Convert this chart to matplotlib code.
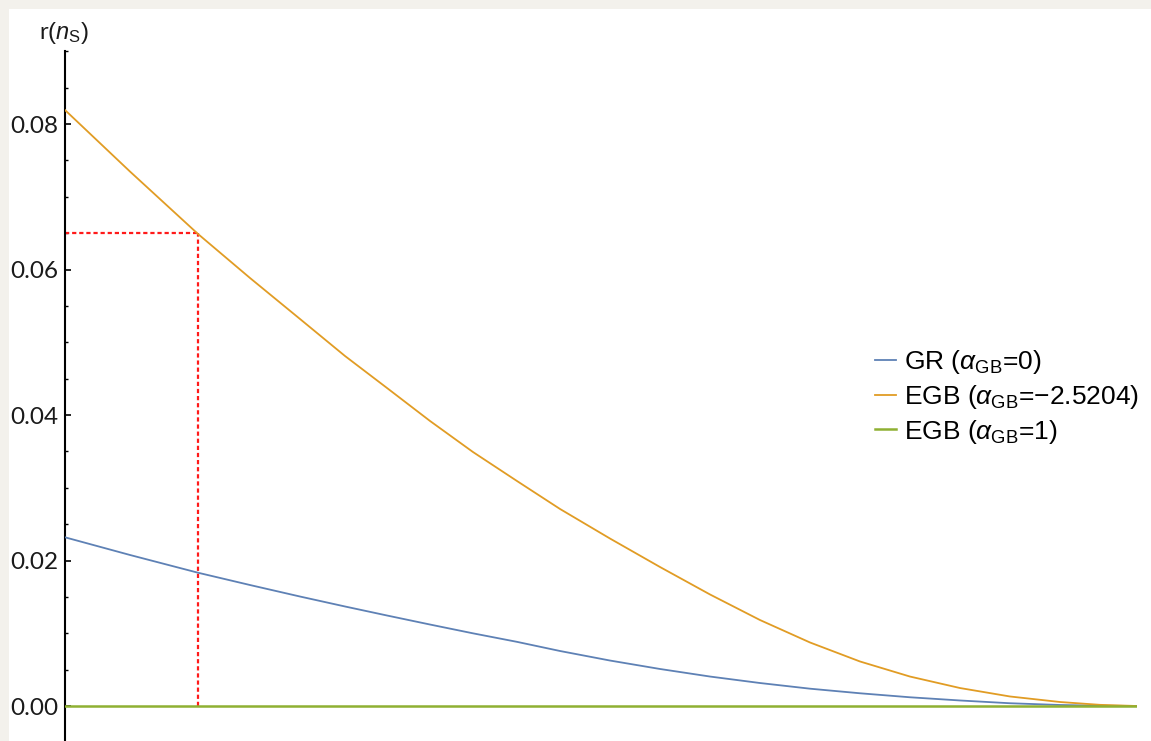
import matplotlib
matplotlib.use("Agg")
import matplotlib.pyplot as plt
from matplotlib.patches import Rectangle

# Parameter grid (normalised, curves vanish at the right end)
x_vals = [0.0, 0.0606, 0.1241, 0.1726, 0.2192, 0.2612, 0.3004, 0.3405, 0.3806,
          0.4216, 0.4618, 0.5084, 0.5550, 0.6017, 0.6483, 0.6950, 0.7416,
          0.7882, 0.8349, 0.8815, 0.9282, 0.9655, 1.0]

# Tensor-to-scalar ratio for each model
r_gr = [0.02319, 0.02076, 0.01832, 0.01663, 0.01505, 0.01368, 0.01244, 0.01120,
        0.00999, 0.00882, 0.00756, 0.00625, 0.00509, 0.00405, 0.00316, 0.00238,
        0.00175, 0.00120, 0.00076, 0.00038, 0.00014, 0.00004, 0.0]
r_egb_neg = [0.08192, 0.07347, 0.06488, 0.05883, 0.05320, 0.04811, 0.04371, 0.03918,
             0.03491, 0.03093, 0.02708, 0.02302, 0.01911, 0.01533, 0.01182, 0.00873,
             0.00612, 0.00405, 0.00247, 0.00131, 0.00055, 0.00016, 0.0]
r_egb_one = [0.0] * 23

series_labels = [
    r"GR ($\alpha_{\mathrm{GB}}$=0)",
    "EGB ($\\alpha_{\\mathrm{GB}}$=\u22122.5204)",
    r"EGB ($\alpha_{\mathrm{GB}}$=1)",
]
series_colors = ["#5E81B5", "#E19C24", "#8FB032"]

# Highlighted point on the EGB curve
x_mark = 0.1241
r_mark = 0.065

y_ticks = [0.00, 0.02, 0.04, 0.06, 0.08]
y_tick_labels = ["0.00", "0.02", "0.04", "0.06", "0.08"]

plt.rcParams["mathtext.fontset"] = "custom"
plt.rcParams["mathtext.rm"] = "Liberation Sans"
plt.rcParams["mathtext.it"] = "Liberation Sans:italic"
plt.rcParams["mathtext.bf"] = "Liberation Sans:bold"

W, H = 1151, 741
fig = plt.figure(figsize=(W / 100, H / 100), dpi=100, facecolor="#F3F1EC")
fig.patches.append(Rectangle((9 / W, 0), 1 - 9 / W, (H - 9) / H,
                             transform=fig.transFigure, facecolor="white",
                             edgecolor="none", zorder=-10))

ymin, ymax = -0.00481, 0.09
ax = fig.add_axes([65 / W, 0, (1137 - 65) / W, (H - 51.25) / H])
ax.set_zorder(1)
ax.patch.set_alpha(0)
ax.set_xlim(0, 1)
ax.set_ylim(ymin, ymax)

# Reference lines to the highlighted point
dots = (0, (1.9, 1.3))
ax.plot([x_mark, x_mark], [0, r_mark], color="#FF1A1A", lw=1.6,
        linestyle=dots, zorder=2, clip_on=False)
ax.plot([0, x_mark], [r_mark, r_mark], color="#FF1A1A", lw=1.6,
        linestyle=dots, zorder=2, clip_on=False)

ax.plot(x_vals, r_gr, color=series_colors[0], lw=1.3, label=series_labels[0], zorder=3)
ax.plot(x_vals, r_egb_neg, color=series_colors[1], lw=1.3, label=series_labels[1], zorder=3)
ax.plot(x_vals, r_egb_one, color=series_colors[2], lw=1.8, label=series_labels[2], zorder=4)

for s in ("top", "right", "bottom"):
    ax.spines[s].set_visible(False)
ax.spines["left"].set_linewidth(1.5)
ax.spines["left"].set_color("black")

ax.set_xticks([])
ax.set_yticks(y_ticks)
ax.set_yticklabels(y_tick_labels, family="Lato", fontsize=17.5, color="#1A1A1A")
ax.set_yticks([0.005 * k for k in range(0, 19)], minor=True)
ax.tick_params(axis="y", which="major", direction="in", length=4.5, width=1.2, pad=5)
ax.tick_params(axis="y", which="minor", direction="in", length=2.5, width=1.0)

fig.text(64 / W, 1 - 33 / H, r"r$(n_{\mathrm{S}})$", ha="center", va="center",
         fontsize=17, family="Lato", color="#1A1A1A")

leg = ax.legend(loc="center left", frameon=False, handlelength=0.78,
                handletextpad=0.3, labelspacing=0.25, borderpad=0,
                borderaxespad=0,
                prop={"family": "Liberation Sans", "size": 19})
leg.set_bbox_to_anchor((875 / W, 1 - 397 / H), transform=fig.transFigure)

fig.savefig("out.png", dpi=100, facecolor=fig.get_facecolor())
